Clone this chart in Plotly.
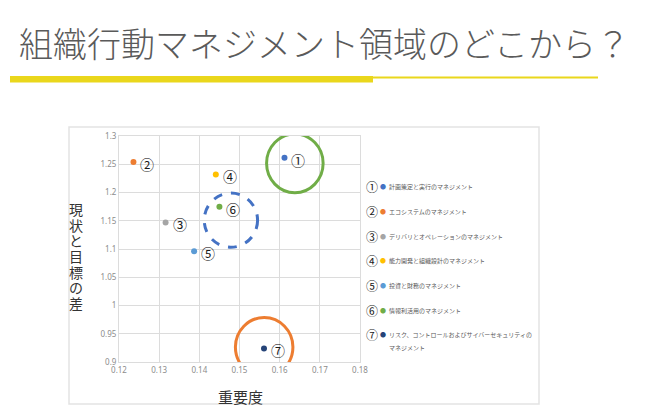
import plotly.graph_objects as go

# ---- data ----
labels_num = ["①", "②", "③", "④", "⑤", "⑥", "⑦"]
importance = [0.1612, 0.1236, 0.1316, 0.1441, 0.1387, 0.1450, 0.1561]
gap = [1.2615, 1.254, 1.147, 1.232, 1.096, 1.175, 0.924]
names = [
    "計画策定と実行のマネジメント",
    "エコシステムのマネジメント",
    "デリバリとオペレーションのマネジメント",
    "能力開発と組織設計のマネジメント",
    "投資と財務のマネジメント",
    "情報利活用のマネジメント",
    "リスク、コントロールおよびサイバーセキュリティの\nマネジメント",
]
colors = ["#4472C4", "#ED7D31", "#A5A5A5", "#FFC000", "#5B9BD5", "#70AD47", "#264478"]
x_ticks = [0.12, 0.13, 0.14, 0.15, 0.16, 0.17, 0.18]
x_ticktext = ["0.12", "0.13", "0.14", "0.15", "0.16", "0.17", "0.18"]
y_ticks = [0.9, 0.95, 1.0, 1.05, 1.1, 1.15, 1.2, 1.25, 1.3]
y_ticktext = ["0.9", "0.95", "1", "1.05", "1.1", "1.15", "1.2", "1.25", "1.3"]
title_text = "組織行動マネジメント領域のどこから？"
x_title = "重要度"
y_title = "現状と目標の差"

# highlight circles (center x, center y, radius x, radius y, color, dash)
highlights = [
    (0.16378, 1.2516, 0.00704, 0.052, "#70AD47", "solid"),
    (0.14786, 1.151, 0.00664, 0.0479, "#4472C4", "dash"),
    (0.15614, 0.9264, 0.00716, 0.0523, "#ED7D31", "solid"),
]

W, H = 670, 417
L, R, T, B = 119, 310, 136, 55
PW, PH = W - L - R, H - T - B


def px(xp):
    return (xp - L) / PW


def py(yp):
    return (H - B - yp) / PH


FONT = "Noto Sans CJK JP"

fig = go.Figure()
fig.add_trace(go.Scatter(
    x=importance, y=gap,
    mode="markers",
    marker=dict(size=6, color=colors),
    showlegend=False,
    hoverinfo="skip",
    cliponaxis=False,
))

shapes = []
for cx, cy, rx, ry, col, dash in highlights:
    shapes.append(dict(type="circle", xref="x", yref="y",
                       x0=cx - rx, x1=cx + rx, y0=cy - ry, y1=cy + ry,
                       line=dict(color=col, width=3, dash=dash)))

# outer chart frame
shapes.append(dict(type="rect", xref="paper", yref="paper",
                   x0=px(69), x1=px(539), y0=py(404), y1=py(127),
                   line=dict(color="#E3E3E3", width=1.5), layer="below"))
# yellow underline
shapes.append(dict(type="rect", xref="paper", yref="paper",
                   x0=px(10), x1=px(598), y0=py(78.5), y1=py(76.5),
                   line=dict(width=0), fillcolor="#EAD71C"))
shapes.append(dict(type="rect", xref="paper", yref="paper",
                   x0=px(10), x1=px(373), y0=py(82.5), y1=py(76),
                   line=dict(width=0), fillcolor="#EAD71C"))

ann = []
# point labels
for i in range(len(importance)):
    ann.append(dict(text=labels_num[i], x=importance[i], y=gap[i], xref="x", yref="y",
                    xshift=14, yshift=-2, xanchor="center", yanchor="middle",
                    showarrow=False, font=dict(family=FONT, size=14, color="#1a1a1a")))

ann.append(dict(text=title_text, xref="paper", yref="paper",
                x=px(17), y=py(43), xanchor="left", yanchor="middle",
                showarrow=False,
                font=dict(family=FONT, size=34, color="#5a5a5a", weight=300)))
ann.append(dict(text=x_title, xref="paper", yref="paper",
                x=px(240), y=py(396), xanchor="center", yanchor="middle",
                showarrow=False, font=dict(family=FONT, size=15, color="#333333")))
for k, ch in enumerate(y_title):
    ann.append(dict(text=ch, xref="paper", yref="paper",
                    x=px(76), y=py(209.3 + k * 15.55), xanchor="center", yanchor="middle",
                    showarrow=False, font=dict(family=FONT, size=14, color="#333333")))

# custom legend
for i in range(len(names)):
    yl = 186.7 + i * 24.7
    ann.append(dict(text=labels_num[i], xref="paper", yref="paper",
                    x=px(371.5), y=py(yl), xanchor="center", yanchor="middle",
                    showarrow=False, font=dict(family=FONT, size=12, color="#1a1a1a")))
    ann.append(dict(text="●", xref="paper", yref="paper",
                    x=px(383), y=py(yl), xanchor="center", yanchor="middle",
                    showarrow=False, font=dict(family=FONT, size=6, color=colors[i])))
    for j, line in enumerate(names[i].split("\n")):
        ann.append(dict(text=line, xref="paper", yref="paper",
                        x=px(386.5), y=py(yl + j * 13), xanchor="left", yanchor="middle",
                        showarrow=False, font=dict(family=FONT, size=6, color="#595959")))

fig.update_layout(
    width=W, height=H,
    margin=dict(l=L, r=R, t=T, b=B),
    paper_bgcolor="white", plot_bgcolor="white",
    shapes=shapes, annotations=ann,
    xaxis=dict(range=[0.12, 0.18], tickvals=x_ticks, ticktext=x_ticktext,
               showgrid=True, gridcolor="#DCDCDC", gridwidth=1,
               showline=True, linecolor="#DCDCDC", linewidth=1, mirror=True,
               zeroline=False, ticks="", ticklen=0,
               tickfont=dict(family="Noto Sans", size=8, color="#8C8C8C")),
    yaxis=dict(range=[0.9, 1.3], tickvals=y_ticks, ticktext=y_ticktext,
               showgrid=True, gridcolor="#DCDCDC", gridwidth=1,
               showline=True, linecolor="#DCDCDC", linewidth=1, mirror=True,
               zeroline=False, ticks="", ticklen=0,
               tickfont=dict(family="Noto Sans", size=8, color="#8C8C8C")),
)

fig.write_html("out.html")
